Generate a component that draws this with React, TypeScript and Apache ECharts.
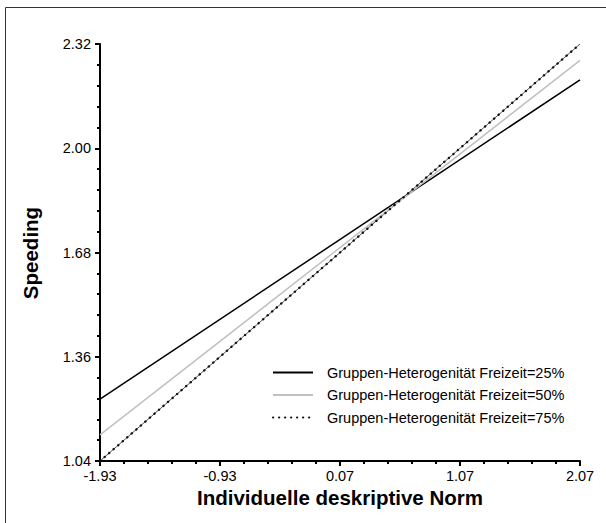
import React, { useEffect, useRef } from "react";
import * as echarts from "echarts";

const xEnds = [-1.93, 2.07];
const s25 = [1.23, 2.21];
const s50 = [1.12, 2.27];
const s75 = [1.04, 2.32];
const seriesNames = [
  "Gruppen-Heterogenität Freizeit=25%",
  "Gruppen-Heterogenität Freizeit=50%",
  "Gruppen-Heterogenität Freizeit=75%",
];
const xTicks = [-1.93, -0.93, 0.07, 1.07, 2.07];
const yTicks = [1.04, 1.36, 1.68, 2.0, 2.32];

const FONT = "Liberation Sans, Arial, sans-serif";

export default function App() {
  const ref = useRef<HTMLDivElement>(null);
  useEffect(() => {
    if (!ref.current) return;
    const chart = echarts.init(ref.current, null, { renderer: "svg" });
    const pts = (ys: number[]) => xEnds.map((x, i) => [x, ys[i]]);
    const xMin = xTicks[0], xMax = xTicks[xTicks.length - 1];
    const yMin = yTicks[0], yMax = yTicks[yTicks.length - 1];
    const xStep = xTicks[1] - xTicks[0];
    const yStep = +(yTicks[1] - yTicks[0]).toFixed(4);
    // tick-only axes spanning the same pixel range, counted from 0 so interval ticks land on the labelled values
    const tickLine = { color: "#000", width: 2 };
    chart.setOption({
      animation: false,
      backgroundColor: "#fff",
      grid: { left: 100, right: 26, top: 44, bottom: 62, containLabel: false },
      xAxis: [
        {
          type: "value", min: xMin, max: xMax,
          axisLine: { show: true, onZero: false, lineStyle: { color: "#000", width: 2 } },
          axisTick: { show: false },
          axisLabel: {
            customValues: xTicks, margin: 7, fontSize: 14.5, color: "#000", fontFamily: FONT,
            formatter: (v: number) => v.toFixed(2),
          },
          splitLine: { show: false },
        },
        {
          type: "value", min: 0, max: +(xMax - xMin).toFixed(4), interval: xStep, position: "bottom",
          axisLine: { show: false, onZero: false },
          axisTick: { show: true, length: 5, lineStyle: tickLine },
          minorTick: { show: true, splitNumber: 5, length: 3, lineStyle: tickLine },
          axisLabel: { show: false },
          splitLine: { show: false },
          minorSplitLine: { show: false },
        },
      ],
      yAxis: [
        {
          type: "value", min: yMin, max: yMax,
          axisLine: { show: true, onZero: false, lineStyle: { color: "#000", width: 2 } },
          axisTick: { show: false },
          axisLabel: {
            customValues: yTicks, margin: 9, fontSize: 14.5, color: "#000", fontFamily: FONT,
            formatter: (v: number) => v.toFixed(2),
          },
          splitLine: { show: false },
        },
        {
          type: "value", min: 0, max: +(yMax - yMin).toFixed(4), interval: yStep, position: "left",
          axisLine: { show: false, onZero: false },
          axisTick: { show: true, length: 5, lineStyle: tickLine },
          minorTick: { show: true, splitNumber: 5, length: 3, lineStyle: tickLine },
          axisLabel: { show: false },
          splitLine: { show: false },
          minorSplitLine: { show: false },
        },
      ],
      legend: {
        data: seriesNames,
        orient: "vertical",
        left: 272,
        top: 365,
        padding: 0,
        itemWidth: 40,
        itemHeight: 14,
        itemGap: 7.5,
        align: "left",
        itemStyle: { color: "rgba(0,0,0,0)", borderWidth: 0, opacity: 0 },
        textStyle: { fontSize: 14.5, color: "#000", fontFamily: FONT, padding: [0, 0, 0, 9] },
      },
      series: [
        {
          name: "_base75", type: "line", data: pts(s75), symbol: "none",
          lineStyle: { color: "#555", width: 1 }, z: 2,
        },
        {
          name: seriesNames[0], type: "line", data: pts(s25), symbol: "none",
          lineStyle: { color: "#000", width: 1.5 }, itemStyle: { color: "#000" },
        },
        {
          name: seriesNames[1], type: "line", data: pts(s50), symbol: "none",
          lineStyle: { color: "#c0c0c0", width: 1.5 }, itemStyle: { color: "#c0c0c0" },
        },
        {
          name: seriesNames[2], type: "line", data: pts(s75), symbol: "none",
          lineStyle: { color: "#111", width: 2.3, type: [0.3, 5.7], cap: "round" },
          itemStyle: { color: "#111" }, z: 3,
        },
      ],
      graphic: [
        { type: "line", shape: { x1: 5.5, y1: 7.5, x2: 606, y2: 7.5 }, style: { stroke: "#333", lineWidth: 1 } },
        { type: "line", shape: { x1: 5.5, y1: 7.5, x2: 5.5, y2: 523 }, style: { stroke: "#333", lineWidth: 1 } },
        {
          type: "text", x: 30, y: 253, rotation: Math.PI / 2,
          style: { text: "Speeding", font: `bold 20.5px ${FONT}`, fill: "#000", textAlign: "center", textVerticalAlign: "middle" },
        },
        {
          type: "text", x: 340, y: 497,
          style: { text: "Individuelle deskriptive Norm", font: `bold 20.5px ${FONT}`, fill: "#000", textAlign: "center", textVerticalAlign: "middle" },
        },
      ],
    });
    return () => chart.dispose();
  }, []);
  return <div ref={ref} style={{ width: 606, height: 523, position: "absolute", left: 0, top: 0 }} />;
}
